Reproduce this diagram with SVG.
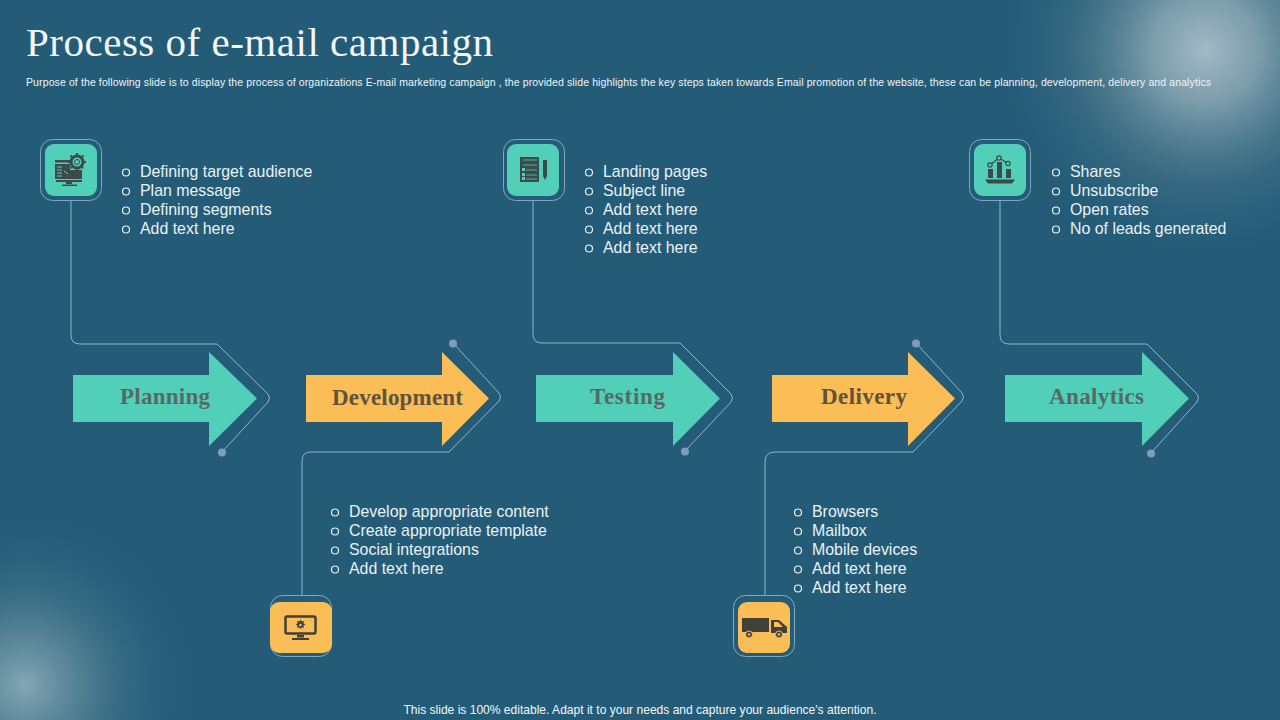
<svg xmlns="http://www.w3.org/2000/svg" width="1280" height="720" viewBox="0 0 1280 720">
<style>
.t{font-family:"Liberation Sans",Arial,sans-serif;font-size:15.9px;fill:#e9f2f4}
.b{fill:none;stroke:#e9f2f4;stroke-width:1.2}
.l{font-family:"Liberation Serif","Times New Roman",serif;font-size:23px;font-weight:bold}
.c{fill:none;stroke:#8fb4c6;stroke-width:1}
.d{fill:#7d9fb3}
.f{fill:none;stroke:#7fa8bd;stroke-width:1}
.teal{fill:#52cfb8}
.gold{fill:#fbbd55}
.i{fill:#3c4a4a}
.o{fill:#41403a}
</style>
<defs>
<radialGradient id="g1"><stop offset="0" stop-color="#a3bac4"/><stop offset=".25" stop-color="#8ba8b4" stop-opacity=".85"/><stop offset=".6" stop-color="#5c8595" stop-opacity=".38"/><stop offset="1" stop-color="#245c78" stop-opacity="0"/></radialGradient>
<radialGradient id="g2"><stop offset="0" stop-color="#85a7b4"/><stop offset=".3" stop-color="#66909f" stop-opacity=".7"/><stop offset=".65" stop-color="#3e7389" stop-opacity=".3"/><stop offset="1" stop-color="#245c78" stop-opacity="0"/></radialGradient>
</defs>
<rect width="1280" height="720" fill="#245c78"/>
<circle cx="1205" cy="50" r="215" fill="url(#g1)"/>
<circle cx="25" cy="685" r="185" fill="url(#g2)"/>

<text x="26" y="56" font-family="Liberation Serif,serif" font-size="41" fill="#f2f7f8" textLength="467" lengthAdjust="spacing">Process of e-mail campaign</text>
<text x="26" y="86" font-family="Liberation Sans,sans-serif" font-size="10.5" fill="#eef4f6" textLength="1185" lengthAdjust="spacing">Purpose of the following slide is to display the process of organizations E-mail marketing campaign , the provided slide highlights the key steps taken towards Email promotion of the website, these can be planning, development, delivery and analytics</text>

<g id="connectors">
<path class="c" d="M71 201V335Q71 344 80 344H217L268 394Q271 398 268 402L222 452"/>
<path class="c" d="M453 343L499 393Q502 397 499 401L449 452H311Q302 452 302 461V596"/>
<path class="c" d="M533 201V334Q533 343 542 343H680L731 394Q734 398 731 402L685 451"/>
<path class="c" d="M916 343L962 393Q965 397 962 401L913 452H775Q765 452 765 462V596"/>
<path class="c" d="M1000 201V335Q1000 344 1009 344H1147L1197 394Q1200 398 1197 402L1151 453"/>
<circle class="d" cx="222" cy="452.500" r="4"/>
<circle class="d" cx="453" cy="343.500" r="4"/>
<circle class="d" cx="685" cy="451.500" r="4"/>
<circle class="d" cx="916" cy="343.500" r="4"/>
<circle class="d" cx="1151" cy="453.500" r="4"/>
</g>

<g id="planning">
<path class="teal" d="M73 375H209V352L257 398.500L209 446V422H73Z"/>
<text class="l" x="120" y="404" fill="#556a66" textLength="90" lengthAdjust="spacing">Planning</text>
<rect class="f" x="40.500" y="139.500" width="61" height="61" rx="12"/>
<rect class="teal" x="45" y="144" width="52" height="52" rx="9"/>
<g class="i">
<path d="M55 160H70V162.500H55ZM55 164H70V179H55ZM56 180H82V182H56ZM66 182H72V184H66ZM62 184.500H77V186H62Z"/>
<path d="M57 167H62M57 170H62M57 173H62M57 176H62M64 171L68 174" stroke="#52cfb8" stroke-width="1" fill="none"/>
<path d="M70 170H82V179H70Z"/>
<circle cx="77" cy="162" r="6" fill="#52cfb8" stroke="#3c4a4a" stroke-width="3"/>
<circle cx="77" cy="162" r="2.500" fill="none" stroke="#3c4a4a" stroke-width="1"/>
<path d="M77 153V171M68 162H86M70.500 155.500L83.500 168.500M83.500 155.500L70.500 168.500" stroke="#3c4a4a" stroke-width="2" stroke-dasharray="2 14" fill="none"/>
</g>
<circle cx="126" cy="172.500" r="3.500" class="b"/><circle cx="126" cy="191.500" r="3.500" class="b"/><circle cx="126" cy="210.500" r="3.500" class="b"/><circle cx="126" cy="229.500" r="3.500" class="b"/>
<text class="t" x="140" y="177">Defining target audience</text>
<text class="t" x="140" y="196">Plan message</text>
<text class="t" x="140" y="215">Defining segments</text>
<text class="t" x="140" y="234">Add text here</text>
</g>

<g id="development">
<path class="gold" d="M306 375H442V352L489 398.500L442 446V422H306Z"/>
<text class="l" x="332" y="405" fill="#5f533c" textLength="131" lengthAdjust="spacing">Development</text>
<rect class="f" x="270.500" y="595.500" width="61" height="61" rx="12"/>
<rect class="gold" x="270" y="602" width="62" height="51" rx="9"/>
<g>
<rect x="285.500" y="616.500" width="30" height="17" rx="1.500" fill="none" stroke="#41403a" stroke-width="2.500"/>
<path class="o" d="M300.500 619.500l1.200 2 2.300-.6-.6 2.300 2 1.200-2 1.200.6 2.300-2.300-.6-1.200 2-1.200-2-2.300.6.6-2.300-2-1.200 2-1.200-.6-2.300 2.300.6Z"/>
<circle cx="300.500" cy="625" r="1.300" fill="#fbbd55"/>
<path class="o" d="M297 635H304V637.500H297ZM292 638H309V640H292Z"/>
</g>
<circle cx="335" cy="512.500" r="3.500" class="b"/><circle cx="335" cy="531.500" r="3.500" class="b"/><circle cx="335" cy="550.500" r="3.500" class="b"/><circle cx="335" cy="569.500" r="3.500" class="b"/>
<text class="t" x="349" y="517">Develop appropriate content</text>
<text class="t" x="349" y="536">Create appropriate template</text>
<text class="t" x="349" y="555">Social integrations</text>
<text class="t" x="349" y="574">Add text here</text>
</g>

<g id="testing">
<path class="teal" d="M536 375H673V352L720 398.500L673 446V422H536Z"/>
<text class="l" x="590" y="404" fill="#556a66" textLength="75" lengthAdjust="spacing">Testing</text>
<rect class="f" x="503.500" y="139.500" width="61" height="61" rx="12"/>
<rect class="teal" x="507" y="144" width="52" height="52" rx="9"/>
<g class="i">
<path d="M520 157H539V182H520Z"/>
<path d="M523 160H537M523 165H537M526 170H537M526 175H537M526 179H537" stroke="#52cfb8" stroke-width=".8" fill="none"/>
<path d="M522 168h3v3h-3ZM522 173h3v3h-3ZM522 177h3v3h-3Z" fill="#52cfb8"/>
<path d="M543 160H547V176L545 180L543 176Z"/>
</g>
<circle cx="589" cy="172.500" r="3.500" class="b"/><circle cx="589" cy="191.500" r="3.500" class="b"/><circle cx="589" cy="210.500" r="3.500" class="b"/><circle cx="589" cy="229.500" r="3.500" class="b"/><circle cx="589" cy="248.500" r="3.500" class="b"/>
<text class="t" x="603" y="177">Landing pages</text>
<text class="t" x="603" y="196">Subject line</text>
<text class="t" x="603" y="215">Add text here</text>
<text class="t" x="603" y="234">Add text here</text>
<text class="t" x="603" y="253">Add text here</text>
</g>

<g id="delivery">
<path class="gold" d="M772 375H908V352L955 398.500L908 446V422H772Z"/>
<text class="l" x="821" y="404" fill="#5f533c" textLength="86" lengthAdjust="spacing">Delivery</text>
<rect class="f" x="733.500" y="595.500" width="61" height="61" rx="12"/>
<rect class="gold" x="738" y="602" width="52" height="51" rx="9"/>
<g class="o">
<path d="M742 618H769V632H742ZM771 620H779L787 627V633H771Z"/>
<path d="M774 622H778L783 627H774Z" fill="#fbbd55"/>
<circle cx="749" cy="634.500" r="3.500" stroke="#fbbd55"/>
<circle cx="779" cy="634.500" r="3.500" stroke="#fbbd55"/>
<circle cx="749" cy="634.500" r="1.200" fill="#fbbd55"/>
<circle cx="779" cy="634.500" r="1.200" fill="#fbbd55"/>
</g>
<circle cx="798" cy="512.500" r="3.500" class="b"/><circle cx="798" cy="531.500" r="3.500" class="b"/><circle cx="798" cy="550.500" r="3.500" class="b"/><circle cx="798" cy="569.500" r="3.500" class="b"/><circle cx="798" cy="588.500" r="3.500" class="b"/>
<text class="t" x="812" y="517">Browsers</text>
<text class="t" x="812" y="536">Mailbox</text>
<text class="t" x="812" y="555">Mobile devices</text>
<text class="t" x="812" y="574">Add text here</text>
<text class="t" x="812" y="593">Add text here</text>
</g>

<g id="analytics">
<path class="teal" d="M1005 375H1142V352L1189 398.500L1142 446V422H1005Z"/>
<text class="l" x="1049" y="404" fill="#556a66" textLength="95" lengthAdjust="spacing">Analytics</text>
<rect class="f" x="969.500" y="139.500" width="61" height="61" rx="12"/>
<rect class="teal" x="974" y="144" width="52" height="52" rx="9"/>
<g class="i">
<path d="M988 169H993V178H988ZM997 162H1002V178H997ZM1006 169H1011V178H1006Z"/>
<path d="M985 179.500H1015L1012 183.500H988Z"/>
<path d="M990 165L999 158L1008 163.500" fill="none" stroke="#3c4a4a" stroke-width="1.200"/>
<circle cx="990" cy="165" r="2.200" fill="#52cfb8" stroke="#3c4a4a" stroke-width="1.200"/>
<circle cx="999" cy="158" r="2.200" fill="#52cfb8" stroke="#3c4a4a" stroke-width="1.200"/>
<circle cx="1008" cy="163.500" r="2.200" fill="#52cfb8" stroke="#3c4a4a" stroke-width="1.200"/>
</g>
<circle cx="1056" cy="172.500" r="3.500" class="b"/><circle cx="1056" cy="191.500" r="3.500" class="b"/><circle cx="1056" cy="210.500" r="3.500" class="b"/><circle cx="1056" cy="229.500" r="3.500" class="b"/>
<text class="t" x="1070" y="177">Shares</text>
<text class="t" x="1070" y="196">Unsubscribe</text>
<text class="t" x="1070" y="215">Open rates</text>
<text class="t" x="1070" y="234">No of leads generated</text>
</g>

<text x="640" y="714" text-anchor="middle" font-family="Liberation Sans,sans-serif" font-size="12.050" fill="#f2f7f8">This slide is 100% editable. Adapt it to your needs and capture your audience's attention.</text>
</svg>
